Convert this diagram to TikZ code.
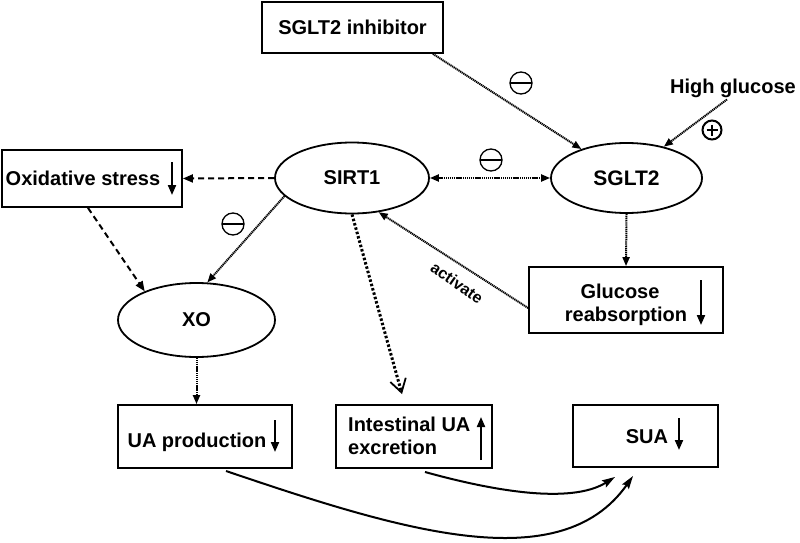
\documentclass[tikz,border=0pt]{standalone}
\usepackage{fontspec}
\setmainfont{Liberation Sans}
\usetikzlibrary{arrows.meta,shapes.geometric,calc}
\begin{document}
\begin{tikzpicture}[x=1pt,y=-1pt,
  every node/.style={font=\bfseries\fontsize{20}{23}\selectfont},
  box/.style={draw,line width=1.8pt,inner sep=0pt},
  oval/.style={draw,ellipse,line width=1.8pt,inner sep=0pt},
  txt/.style={inner sep=0pt},
  dotarrow/.style={line width=2pt,dash pattern=on 1.2pt off 0.7pt,-{Triangle[length=9pt,width=7pt]}},
  dotboth/.style={line width=2pt,dash pattern=on 1.2pt off 0.7pt,{Triangle[length=9pt,width=7pt]}-{Triangle[length=9pt,width=7pt]}},
  thickdot/.style={line width=3pt,dash pattern=on 2.5pt off 2pt,-{Straight Barb[length=13pt,width=16pt,line width=1.8pt]}},
  dasharrow/.style={line width=2pt,dash pattern=on 6pt off 4pt,-{Triangle[length=10pt,width=8pt]}},
  ind/.style={line width=2pt,-{Triangle[length=10pt,width=8pt]}},
  curvearrow/.style={line width=2pt,-{Stealth[length=13pt,width=8pt,inset=2pt]}},
  minus/.style={circle,draw,line width=1.3pt,minimum size=22pt,inner sep=0pt,
    path picture={\draw[line width=1.3pt] (path picture bounding box.west) -- (path picture bounding box.east);}},
  plus/.style={circle,draw,line width=2pt,minimum size=19pt,inner sep=0pt,
    path picture={\draw[line width=2.2pt] ([xshift=4pt]path picture bounding box.west) -- ([xshift=-4pt]path picture bounding box.east)
      ([yshift=-4pt]path picture bounding box.north) -- ([yshift=4pt]path picture bounding box.south);}}
]
\useasboundingbox (0,0) rectangle (800,543);

% nodes
\node[box,minimum width=181pt,minimum height=51pt] (inh) at (352.5,27.5) {SGLT2 inhibitor};
\node[txt,anchor=base] (hg) at (733,93) {High glucose};
\node[oval,minimum width=151pt,minimum height=70pt] (sglt2) at (626.5,178) {\fontsize{21}{24}\selectfont SGLT2};
\node[oval,minimum width=154pt,minimum height=71pt] (sirt1) at (352,178) {SIRT1};
\node[box,minimum width=180pt,minimum height=57pt] (ox) at (92,178.5) {};
\node[txt,anchor=base] (oxt) at (83,185) {Oxidative stress};
\node[oval,minimum width=157pt,minimum height=74pt] (xo) at (196.5,320) {XO};
\node[box,minimum width=194pt,minimum height=66pt] (glu) at (626,300) {};
\node[txt,anchor=base] (glut1) at (620,298) {Glucose};
\node[txt,anchor=base] (glut2) at (626,321) {reabsorption};
\node[box,minimum width=174pt,minimum height=63pt] (ua) at (205,436.5) {};
\node[txt,anchor=base] (uat) at (197,447) {UA production};
\node[box,minimum width=156pt,minimum height=63pt] (ie) at (414,436.5) {};
\node[txt,anchor=base west] (iet1) at (348,431) {Intestinal UA};
\node[txt,anchor=base west] (iet2) at (348,454) {excretion};
\node[box,minimum width=145pt,minimum height=62pt] (sua) at (645.5,436) {};
\node[txt,anchor=base] (suat) at (647,443) {SUA};

% signs
\node[minus] (m1) at (521,83) {};
\node[minus] (m2) at (491,160) {};
\node[minus] (m3) at (233,224) {};
\node[plus] (p1) at (712,130) {};
\node[txt,rotate=-35,font=\bfseries\fontsize{16}{18}\selectfont] (act) at (457,283) {activate};

% indicator arrows inside boxes
\coordinate (oxa1) at (172,162); \coordinate (oxa2) at (172,195);
\coordinate (glua1) at (701,280); \coordinate (glua2) at (701,325);
\coordinate (uaa1) at (275,420); \coordinate (uaa2) at (275,452);
\coordinate (iea1) at (481,460); \coordinate (iea2) at (481,417);
\coordinate (suaa1) at (679,418); \coordinate (suaa2) at (679,450);
\draw[ind] (oxa1) -- (oxa2);
\draw[ind] (glua1) -- (glua2);
\draw[ind] (uaa1) -- (uaa2);
\draw[ind] (iea1) -- (iea2);
\draw[ind] (suaa1) -- (suaa2);

% connectors
\draw[dotarrow] ([xshift=-11pt]inh.south east) -- (sglt2);
\draw[dotarrow] ([xshift=-6pt,yshift=-2pt]hg.south) -- (sglt2.40);
\draw[dotboth] (sirt1.east) -- (sglt2.west);
\draw[dasharrow] (sirt1.west) -- (ox.east);
\draw[dasharrow] ([xshift=-4pt]ox.south) -- (xo.151);
\draw[dotarrow] (sirt1.195) -- (xo.74);
\draw[dotarrow] (xo.south) -- (xo.south |- ua.north);
\draw[thickdot] (sirt1.south) -- ([xshift=-12pt,yshift=10pt]ie.north);
\draw[dotarrow] (sglt2.south) -- (glu.north);
\draw[dotarrow] ([yshift=-8pt]glu.west) -- (sirt1.-52);

\coordinate (c1s) at (226,471); \coordinate (c1e) at (633,476);
\coordinate (c2s) at (425,472); \coordinate (c2e) at (615,477);
\draw[curvearrow] (c1s) .. controls (400,530) and (560,580) .. (c1e);
\draw[curvearrow] (c2s) .. controls (490,490) and (570,505) .. (c2e);
\end{tikzpicture}
\end{document}
